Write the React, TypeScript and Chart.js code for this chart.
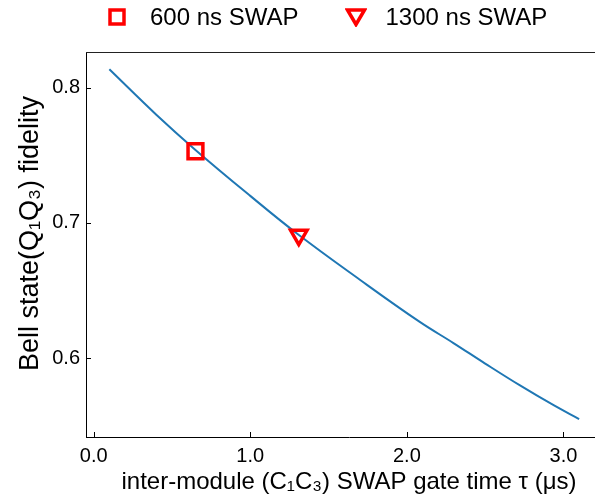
import React, { useEffect, useRef } from "react";
import { Chart, registerables } from "chart.js";

Chart.register(...registerables);

// SWAP gate time tau (µs) and Bell-state fidelity
const tValues = [0.1, 0.4, 0.65, 1.0, 1.3, 1.7, 2.08, 2.3, 2.5, 2.72, 2.94, 3.1];
const fidelity = [0.8136, 0.78, 0.754, 0.72, 0.692, 0.658, 0.627, 0.611, 0.596, 0.58, 0.565, 0.555];

// highlighted SWAP durations
const swap600 = [{ x: 0.65, y: 0.753 }];
const swap1300 = [{ x: 1.31, y: 0.691 }];

const xTicks = [0, 1, 2, 3];
const yTicks = [0.6, 0.7, 0.8];

const legendLabels = ["600 ns SWAP", "1300 ns SWAP"];
const xTitle = "inter-module (C\u2081C\u2083) SWAP gate time \u03c4 (\u03bcs)";
const yTitle = "Bell state(Q\u2081Q\u2083) fidelity";

const FONT = "'Liberation Sans', Arial, Helvetica, sans-serif";
const BLUE = "#1f77b4";
const RED = "#ff0000";

const framePlugin = {
  id: "frame",
  afterDraw(chart: any) {
    const { ctx, chartArea } = chart;
    const { left, top, bottom } = chartArea;
    ctx.save();
    // top spine
    ctx.strokeStyle = "#222";
    ctx.lineWidth = 1.2;
    ctx.beginPath();
    ctx.moveTo(left, top + 0.5);
    ctx.lineTo(chart.width, top + 0.5);
    ctx.stroke();
    // inward ticks
    ctx.strokeStyle = "#000";
    ctx.lineWidth = 1;
    const xs = chart.scales.x;
    const ys = chart.scales.y;
    ctx.beginPath();
    xs.ticks.forEach((t: any) => {
      const px = Math.round(xs.getPixelForValue(t.value)) + 0.5;
      ctx.moveTo(px, bottom);
      ctx.lineTo(px, bottom - 5);
    });
    ys.ticks.forEach((t: any) => {
      const py = Math.round(ys.getPixelForValue(t.value)) + 0.5;
      ctx.moveTo(left, py);
      ctx.lineTo(left + 5, py);
    });
    ctx.stroke();
    // y-axis title
    ctx.translate(31, (top + bottom) / 2 - 11);
    ctx.rotate(-Math.PI / 2);
    ctx.fillStyle = "#000";
    ctx.font = `27px ${FONT}`;
    ctx.textAlign = "center";
    ctx.textBaseline = "middle";
    ctx.fillText(yTitle, 0, 0);
    ctx.restore();
  },
};

export default function App() {
  const canvasRef = useRef<HTMLCanvasElement | null>(null);

  useEffect(() => {
    document.documentElement.style.overflow = "hidden";
    document.body.style.overflow = "hidden";
    if (!canvasRef.current) return;
    const chart = new Chart(canvasRef.current, {
      type: "line",
      data: {
        datasets: [
          {
            label: "fidelity",
            data: tValues.map((t, i) => ({ x: t, y: fidelity[i] })),
            borderColor: BLUE,
            borderWidth: 2,
            pointRadius: 0,
            tension: 0.4,
            fill: false,
            order: 2,
          },
          {
            label: legendLabels[0],
            data: swap600,
            showLine: false,
            pointStyle: "rect",
            pointRadius: 10.5,
            pointBorderWidth: 3.5,
            pointBorderColor: RED,
            pointBackgroundColor: "rgba(0,0,0,0)",
            borderColor: RED,
            order: 1,
          },
          {
            label: legendLabels[1],
            data: swap1300,
            showLine: false,
            pointStyle: "triangle",
            pointRotation: 180,
            pointRadius: 9.5,
            pointBorderWidth: 3.5,
            pointBorderColor: RED,
            pointBackgroundColor: "rgba(0,0,0,0)",
            borderColor: RED,
            order: 1,
          },
        ],
      },
      options: {
        animation: false,
        responsive: false,
        layout: { autoPadding: false, padding: { top: 52, right: 0, bottom: 0, left: 0 } },
        plugins: {
          legend: { display: false },
          tooltip: { enabled: false },
        },
        scales: {
          x: {
            type: "linear",
            min: -0.049,
            max: 3.31,
            afterBuildTicks: (s: any) => {
              s.ticks = xTicks.map((v) => ({ value: v }));
            },
            afterFit: (s: any) => {
              s.height = 62;
              s.paddingLeft = 0;
              s.paddingRight = 0;
            },
            grid: { display: false, drawTicks: false },
            border: { display: true, color: "#000", width: 1 },
            ticks: {
              color: "#000",
              padding: 7,
              maxRotation: 0,
              font: { family: FONT, size: 20 },
              callback: (v: any) => Number(v).toFixed(1),
            },
            title: {
              display: true,
              text: xTitle,
              color: "#000",
              font: { family: FONT, size: 24 },
              padding: { top: 0, bottom: 2 },
            },
          },
          y: {
            type: "linear",
            min: 0.5417,
            max: 0.8264,
            afterBuildTicks: (s: any) => {
              s.ticks = yTicks.map((v) => ({ value: v }));
            },
            afterFit: (s: any) => {
              s.width = 86;
              s.paddingTop = 0;
              s.paddingBottom = 0;
            },
            grid: { display: false, drawTicks: false },
            border: { display: true, color: "#000", width: 1 },
            ticks: {
              color: "#000",
              padding: 6,
              font: { family: FONT, size: 20 },
              callback: (v: any) => Number(v).toFixed(1),
            },
            title: { display: false },
          },
        },
      },
      plugins: [framePlugin],
    });
    return () => chart.destroy();
  }, []);

  const textStyle: React.CSSProperties = {
    fontFamily: FONT,
    fontSize: 24,
    color: "#000",
    whiteSpace: "nowrap",
    lineHeight: "34px",
  };

  return (
    <div style={{ position: "absolute", left: 0, top: 0, width: 595, height: 499, overflow: "hidden", background: "#fff" }}>
      <canvas ref={canvasRef} width={612} height={499} style={{ position: "absolute", left: 0, top: 0, display: "block" }} />
      <div
        style={{
          position: "absolute",
          left: 107,
          top: 0,
          height: 34,
          display: "flex",
          alignItems: "center",
        }}
      >
        <svg width={20} height={20} style={{ display: "block" }}>
          <rect x={3} y={3} width={14} height={14} fill="none" stroke={RED} strokeWidth={3.5} />
        </svg>
        <span style={{ ...textStyle, marginLeft: 23 }}>{legendLabels[0]}</span>
        <svg width={22} height={20} style={{ display: "block", marginLeft: 46 }}>
          <polygon points="2.5,3 19.5,3 11,17.5" fill="none" stroke={RED} strokeWidth={3.5} strokeLinejoin="miter" />
        </svg>
        <span style={{ ...textStyle, marginLeft: 19 }}>{legendLabels[1]}</span>
      </div>
    </div>
  );
}
